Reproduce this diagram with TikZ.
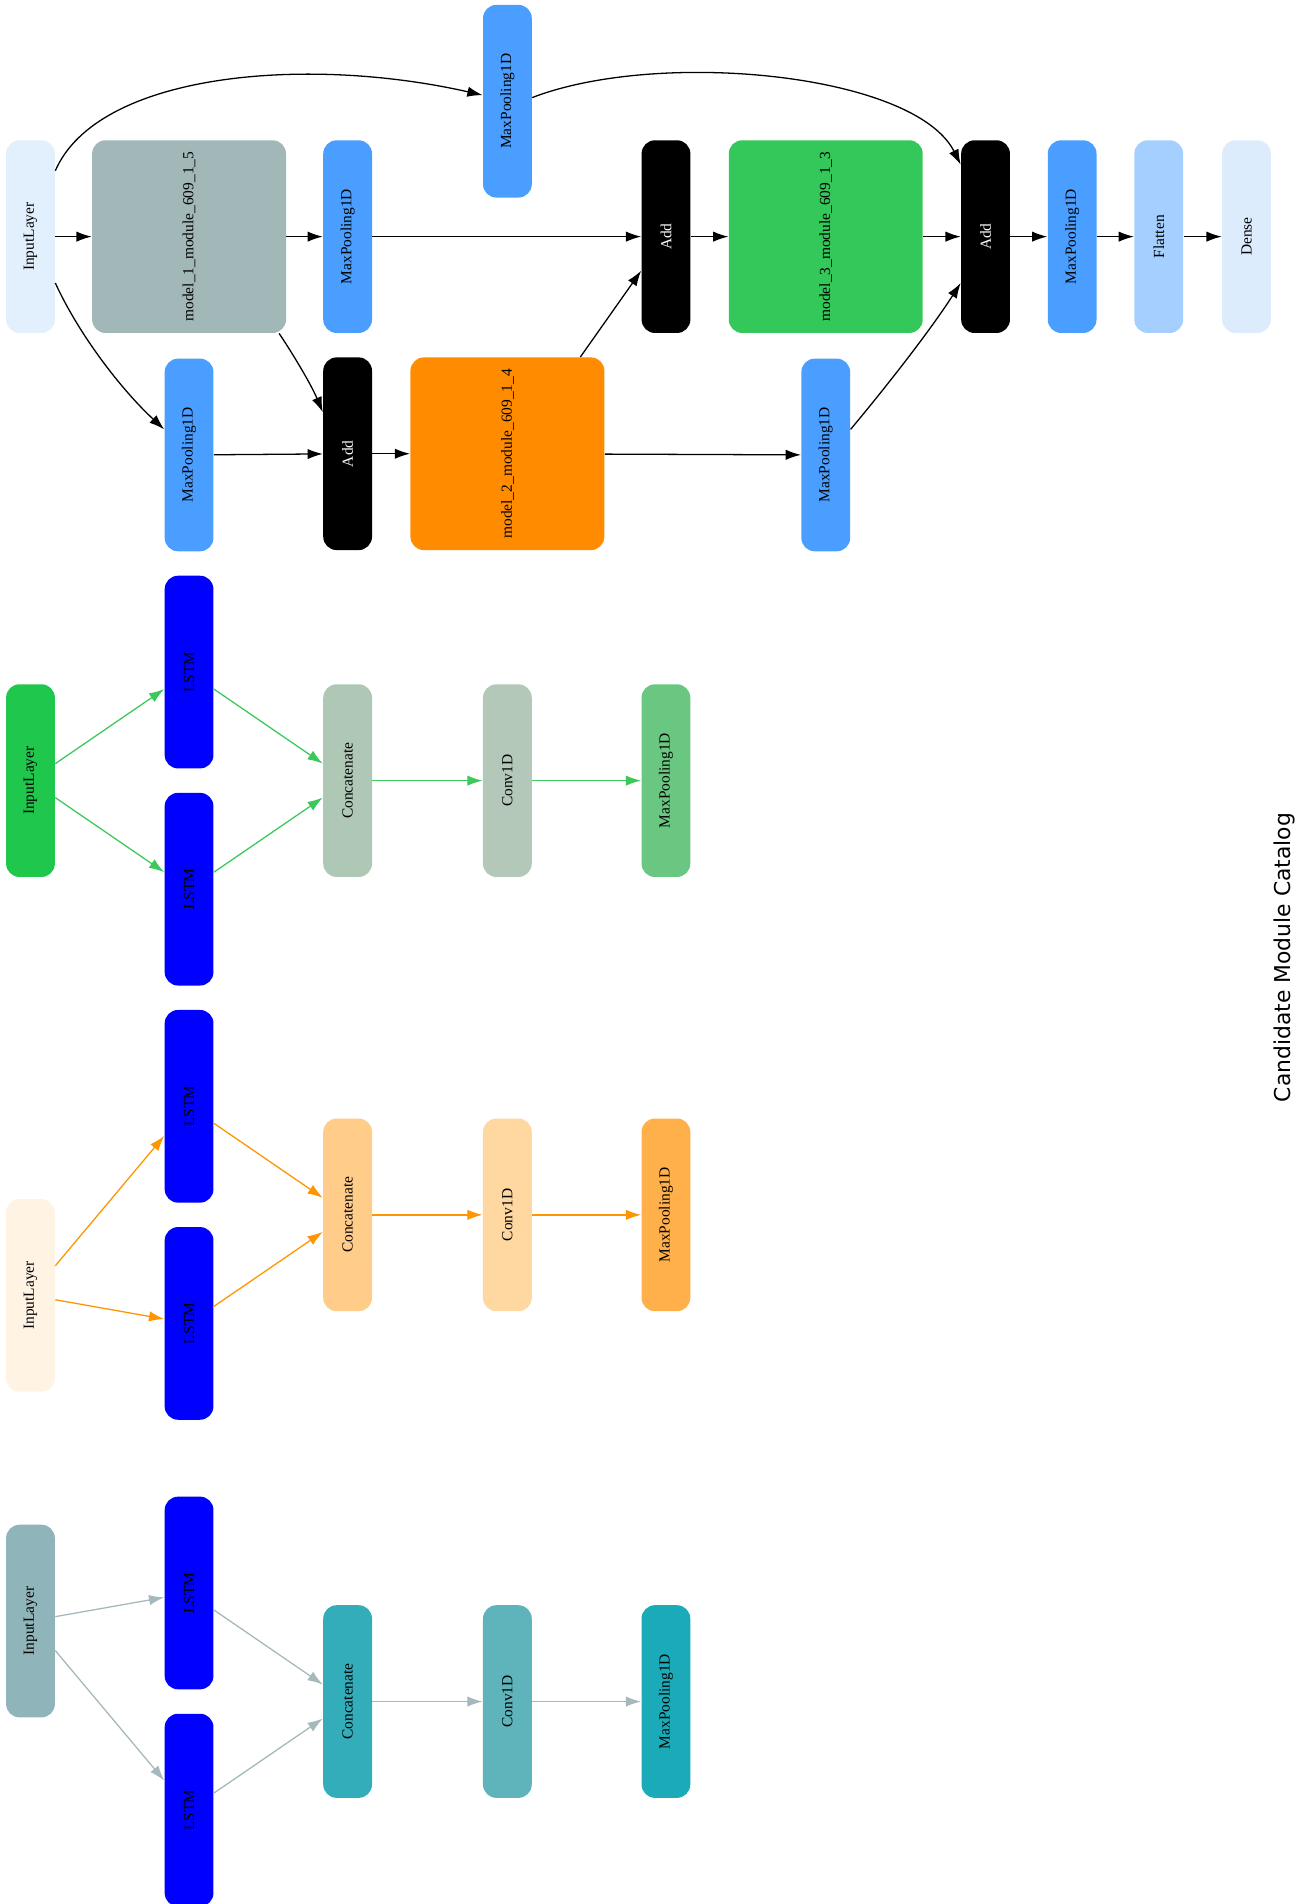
\documentclass[tikz,border=0pt]{standalone}
\usepackage{fontspec}
\setmainfont{Liberation Serif}
\newfontfamily\titlefont{DejaVu Sans}
\usetikzlibrary{arrows.meta,positioning,calc}

\definecolor{inA}{HTML}{E2EFFC}
\definecolor{modA}{HTML}{A1B7B8}
\definecolor{poolblue}{HTML}{4A9EFF}
\definecolor{modB}{HTML}{FF8C00}
\definecolor{modC}{HTML}{34C759}
\definecolor{flatA}{HTML}{A4CFFF}
\definecolor{denseA}{HTML}{DDECFD}
\definecolor{lstmblue}{HTML}{0000FF}
\definecolor{inB}{HTML}{1FC84C}
\definecolor{catB}{HTML}{AFC7B5}
\definecolor{convB}{HTML}{B3C8B9}
\definecolor{poolB}{HTML}{69C781}
\definecolor{edgeB}{HTML}{3CC85A}
\definecolor{inC}{HTML}{FFF3E4}
\definecolor{catC}{HTML}{FFCC8A}
\definecolor{convC}{HTML}{FFD8A1}
\definecolor{poolC}{HTML}{FFB04B}
\definecolor{edgeC}{HTML}{FF9500}
\definecolor{inD}{HTML}{8FB5BA}
\definecolor{catD}{HTML}{33ADB9}
\definecolor{convD}{HTML}{5FB3BA}
\definecolor{poolD}{HTML}{1BABB8}
\definecolor{edgeD}{HTML}{A5B8BB}

\newcommand{\vlab}[1]{\rotatebox{90}{#1}}

\tikzset{
  layer/.style={rounded corners=0.22cm, inner sep=0pt, minimum width=0.8cm,
    minimum height=3.16cm, font=\fontsize{7.2}{8}\selectfont},
  module/.style={layer, minimum width=3.18cm},
  flow/.style={-{Latex[length=0.25cm,width=0.17cm]}, line width=0.6pt},
}

\begin{document}
\begin{tikzpicture}[x=0.02cm,y=-0.02cm,on grid]
\useasboundingbox (0,0) rectangle (1070,1561);

% searched architecture
\node[layer,fill=inA]      (in1)  at (25,194)  {\vlab{InputLayer}};
\node[module,fill=modA]    (m1)   at (155,194) {\vlab{model\_1\_module\_609\_1\_5}};
\node[layer,fill=poolblue] (mpa)  at (285,194) {\vlab{MaxPooling1D}};
\node[layer,fill=poolblue] (mpb)  at (416,83)  {\vlab{MaxPooling1D}};
\node[layer,fill=black,text=white] (adda) at (546,194) {\vlab{Add}};
\node[module,fill=modC]    (m3)   at (677,194) {\vlab{model\_3\_module\_609\_1\_3}};
\node[layer,fill=black,text=white] (addb) at (808,194) {\vlab{Add}};
\node[layer,fill=poolblue] (mpc)  [right=1.42cm of addb] {\vlab{MaxPooling1D}};
\node[layer,fill=flatA]    (fl)   [right=1.42cm of mpc]  {\vlab{Flatten}};
\node[layer,fill=denseA]   (de)   [right=1.44cm of fl]   {\vlab{Dense}};
\node[layer,fill=poolblue] (mpd)  at (155,373) {\vlab{MaxPooling1D}};
\node[layer,fill=black,text=white] (addc) at (285,372) {\vlab{Add}};
\node[module,fill=modB]    (m2)   at (416,372) {\vlab{model\_2\_module\_609\_1\_4}};
\node[layer,fill=poolblue] (mpe)  at (677,373) {\vlab{MaxPooling1D}};

\path[flow]
  (in1) edge (m1)
  (m1)  edge (mpa)
  (mpa) edge (adda)
  (adda) edge (m3)
  (m3)  edge (addb)
  (addb) edge (mpc)
  (mpc) edge (fl)
  (fl)  edge (de)
  (mpd) edge (addc)
  (addc) edge (m2)
  (m2)  edge (mpe);
\draw[flow] ($(in1.east)+(0,-54)$) .. controls (80,60) and (250,45) .. ($(mpb.west)+(0,-5)$);
\draw[flow] ($(mpb.east)+(0,-3)$) .. controls (540,40) and (750,60) .. ($(addb.west)+(0,-59)$);
\draw[flow] ($(in1.east)+(0,38)$) .. controls (65,275) and (100,320) .. ($(mpd.west)+(0,-21)$);
\draw[flow] ($(m1.south east)+(-6,0)$) .. controls (240,290) and (255,315) .. ($(addc.west)+(0,-34)$);
\draw[flow] ($(m2.north east)+(-20,0)$) -- ($(adda.west)+(0,28)$);
\draw[flow] ($(mpe.east)+(0,-21)$) .. controls (720,325) and (760,275) .. ($(addb.west)+(0,38)$);

% module 1
\node[layer,fill=inB]      (in2) at (25,640)  {\vlab{InputLayer}};
\node[layer,fill=lstmblue] (lsa) at (155,551) {\vlab{LSTM}};
\node[layer,fill=lstmblue] (lsb) at (155,729) {\vlab{LSTM}};
\node[layer,fill=catB]     (cca) at (285,640) {\vlab{Concatenate}};
\node[layer,fill=convB]    (cva) [right=2.62cm of cca] {\vlab{Conv1D}};
\node[layer,fill=poolB]    (mpf) [right=2.6cm of cva]  {\vlab{MaxPooling1D}};
\path[flow,edgeB]
  (in2) edge (lsa)
        edge (lsb)
  (lsa) edge (cca)
  (lsb) edge (cca)
  (cca) edge (cva)
  (cva) edge (mpf);

% module 2
\node[layer,fill=inC]      (in3) at (25,1062)  {\vlab{InputLayer}};
\node[layer,fill=lstmblue] (lsc) at (155,907)  {\vlab{LSTM}};
\node[layer,fill=lstmblue] (lsd) at (155,1085) {\vlab{LSTM}};
\node[layer,fill=catC]     (ccb) at (285,996)  {\vlab{Concatenate}};
\node[layer,fill=convC]    (cvb) [right=2.62cm of ccb] {\vlab{Conv1D}};
\node[layer,fill=poolC]    (mpg) [right=2.6cm of cvb]  {\vlab{MaxPooling1D}};
\path[flow,edgeC]
  (in3) edge (lsc)
        edge (lsd)
  (lsc) edge (ccb)
  (lsd) edge (ccb)
  (ccb) edge (cvb)
  (cvb) edge (mpg);

% module 3
\node[layer,fill=inD]      (in4) at (25,1329)  {\vlab{InputLayer}};
\node[layer,fill=lstmblue] (lse) at (155,1306) {\vlab{LSTM}};
\node[layer,fill=lstmblue] (lsf) at (155,1484) {\vlab{LSTM}};
\node[layer,fill=catD]     (ccc) at (285,1395) {\vlab{Concatenate}};
\node[layer,fill=convD]    (cvc) [right=2.62cm of ccc] {\vlab{Conv1D}};
\node[layer,fill=poolD]    (mph) [right=2.6cm of cvc]  {\vlab{MaxPooling1D}};
\path[flow,edgeD]
  (in4) edge (lse)
        edge (lsf)
  (lse) edge (ccc)
  (lsf) edge (ccc)
  (ccc) edge (cvc)
  (cvc) edge (mph);

\node[font=\titlefont\fontsize{10.2}{12}\selectfont] (ttl) at (1053,785) {\vlab{Candidate Module Catalog}};
\end{tikzpicture}
\end{document}
